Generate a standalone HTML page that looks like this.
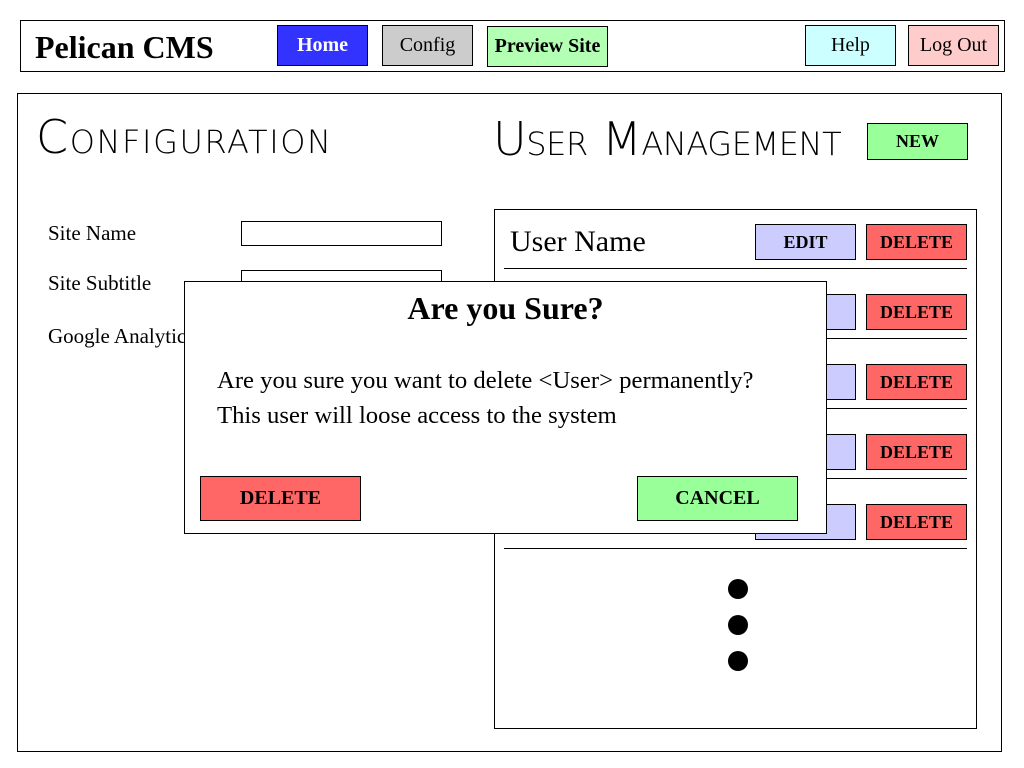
<!DOCTYPE html>
<html><head><meta charset="utf-8"><style>
*{margin:0;padding:0;box-sizing:border-box}
body{width:1024px;height:768px;background:#fff;position:relative;overflow:hidden;font-family:"Liberation Serif",serif;color:#000}
.a{position:absolute}
.b{position:absolute;border:1px solid #000;display:flex;align-items:center;justify-content:center;font-size:20px}
.bold{font-weight:bold}
.h{position:absolute;font-family:"DejaVu Sans ExtraLight","DejaVu Sans","Liberation Sans",sans-serif;font-variant:small-caps;font-weight:200;font-size:46px;line-height:1}
.line{position:absolute;left:504px;width:463px;height:1px;background:#000}
.dot{position:absolute;left:728px;width:20px;height:20px;border-radius:50%;background:#000}
</style></head><body>
<div class="a" style="left:20px;top:20px;width:985px;height:52px;border:1px solid #000"></div>
<div class="a bold" style="left:35px;top:29px;font-size:32px">Pelican CMS</div>
<div class="b bold" style="left:277px;top:25px;width:91px;height:41px;background:#3333ff;color:#fff">Home</div>
<div class="b" style="left:382px;top:25px;width:91px;height:41px;background:#cccccc">Config</div>
<div class="b bold" style="left:487px;top:26px;width:121px;height:41px;background:#b3ffb3">Preview Site</div>
<div class="b" style="left:805px;top:25px;width:91px;height:41px;background:#ccffff">Help</div>
<div class="b" style="left:908px;top:25px;width:91px;height:41px;background:#ffcccc">Log Out</div>

<div class="a" style="left:17px;top:93px;width:985px;height:659px;border:1px solid #000"></div>
<div class="h" style="left:36px;top:114px;letter-spacing:1.6px">Configuration</div>
<div class="h" style="left:493px;top:116px;letter-spacing:-0.4px">User Management</div>
<div class="b bold" style="left:867px;top:123px;width:101px;height:37px;background:#99ff99;font-size:18px">NEW</div>

<div class="a" style="left:48px;top:221px;font-size:21px">Site Name</div>
<div class="a" style="left:241px;top:221px;width:201px;height:25px;border:1px solid #000"></div>
<div class="a" style="left:48px;top:271px;font-size:21px">Site Subtitle</div>
<div class="a" style="left:241px;top:270px;width:201px;height:25px;border:1px solid #000"></div>
<div class="a" style="left:48px;top:324px;font-size:21px">Google Analytics</div>

<div class="a" style="left:494px;top:209px;width:483px;height:520px;border:1px solid #000;background:#fff"></div>
<div class="a" style="left:510px;top:225px;font-size:30px">User Name</div>
<div class="line" style="top:268px"></div>
<div class="line" style="top:338px"></div>
<div class="line" style="top:408px"></div>
<div class="line" style="top:478px"></div>
<div class="line" style="top:548px"></div>
<div class="b bold" style="left:755px;top:224px;width:101px;height:36px;background:#ccccff;font-size:18px">EDIT</div>
<div class="b bold" style="left:866px;top:224px;width:101px;height:36px;background:#ff6666;font-size:18px">DELETE</div>
<div class="b" style="left:755px;top:294px;width:101px;height:36px;background:#ccccff"></div>
<div class="b bold" style="left:866px;top:294px;width:101px;height:36px;background:#ff6666;font-size:18px">DELETE</div>
<div class="b" style="left:755px;top:364px;width:101px;height:36px;background:#ccccff"></div>
<div class="b bold" style="left:866px;top:364px;width:101px;height:36px;background:#ff6666;font-size:18px">DELETE</div>
<div class="b" style="left:755px;top:434px;width:101px;height:36px;background:#ccccff"></div>
<div class="b bold" style="left:866px;top:434px;width:101px;height:36px;background:#ff6666;font-size:18px">DELETE</div>
<div class="b" style="left:755px;top:504px;width:101px;height:36px;background:#ccccff"></div>
<div class="b bold" style="left:866px;top:504px;width:101px;height:36px;background:#ff6666;font-size:18px">DELETE</div>
<div class="dot" style="top:579px"></div>
<div class="dot" style="top:615px"></div>
<div class="dot" style="top:651px"></div>

<div class="a" style="left:184px;top:281px;width:643px;height:253px;border:1px solid #000;background:#fff"></div>
<div class="a bold" style="left:184px;width:643px;top:290px;text-align:center;font-size:32px">Are you Sure?</div>
<div class="a" style="left:217px;top:363px;font-size:24.7px;line-height:35px">Are you sure you want to delete &lt;User&gt; permanently?<br>This user will loose access to the system</div>
<div class="b bold" style="left:200px;top:476px;width:161px;height:45px;background:#ff6666">DELETE</div>
<div class="b bold" style="left:637px;top:476px;width:161px;height:45px;background:#99ff99">CANCEL</div>
</body></html>
